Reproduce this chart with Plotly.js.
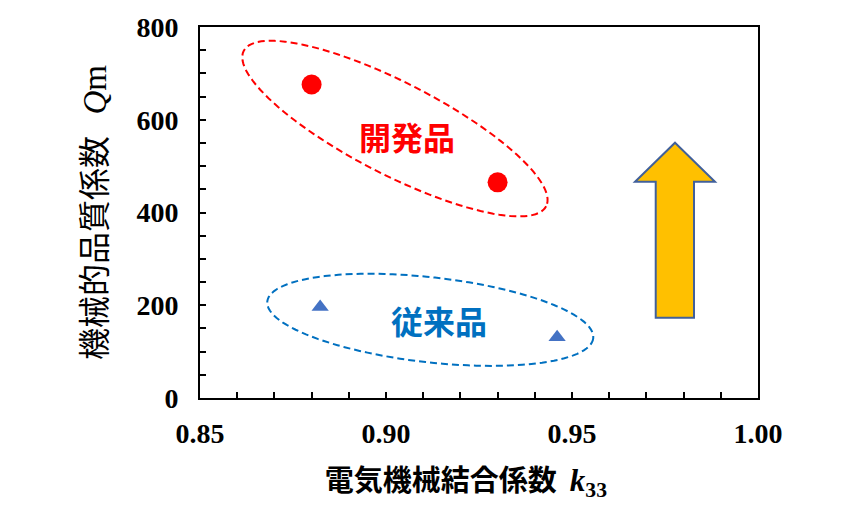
<!DOCTYPE html>
<html>
<head>
<meta charset="utf-8">
<script src="https://cdn.plot.ly/plotly-3.0.1.min.js"></script>
<style>html,body{margin:0;padding:0;background:#fff;}#chart{width:860px;height:520px;}</style>
</head>
<body>
<div id="chart"></div>
<script>
// ---- data ----
const devX = [0.880, 0.930];          // 開発品 k33
const devY = [676, 465];              // 開発品 Qm
const convX = [0.8823, 0.946];        // 従来品 k33
const convY = [196, 131];             // 従来品 Qm
const xTickVals = [0.85, 0.90, 0.95, 1.00];
const xTickText = ['0.85', '0.90', '0.95', '1.00'];
const yTickVals = [0, 200, 400, 600, 800];
const yTickText = ['0', '200', '400', '600', '800'];
const groupLabels = ['開発品', '従来品'];

// ---- layout geometry ----
const W = 860, H = 520;
const M = {l: 200, r: 102, t: 27, b: 122};
const xRange = [0.85, 1.00], yRange = [0, 800];
const plotW = W - M.l - M.r, plotH = H - M.t - M.b;
const kx = plotW / (xRange[1] - xRange[0]);
const ky = plotH / (yRange[1] - yRange[0]);

function ellipsePath(cx, cy, aPx, bPx, angDeg) {
  const th = angDeg * Math.PI / 180;
  let d = '';
  const n = 120;
  for (let i = 0; i <= n; i++) {
    const t = 2 * Math.PI * i / n;
    const dxp = aPx * Math.cos(t) * Math.cos(th) - bPx * Math.sin(t) * Math.sin(th);
    const dyp = aPx * Math.cos(t) * Math.sin(th) + bPx * Math.sin(t) * Math.cos(th);
    const x = cx + dxp / kx;
    const y = cy - dyp / ky;
    d += (i === 0 ? 'M' : 'L') + x.toFixed(5) + ',' + y.toFixed(3);
  }
  return d + 'Z';
}
function px2paper(p) { return [(p[0] - M.l) / plotW, (H - M.b - p[1]) / plotH]; }
const arrowPx = [[675,142.7],[715,181.7],[694,181.7],[694,317.7],[655.7,317.7],[655.7,181.7],[635,181.7]];
const arrowPath = arrowPx.map((p, i) => { const q = px2paper(p); return (i ? 'L' : 'M') + q[0].toFixed(4) + ',' + q[1].toFixed(4); }).join('') + 'Z';

const serif = 'Liberation Serif, Times New Roman, serif';
const cjk = 'Noto Sans CJK JP, sans-serif';

const traces = [
  {x: devX, y: devY, type: 'scatter', mode: 'markers', name: groupLabels[0],
   marker: {symbol: 'circle', size: 20, color: '#FF0000'}, cliponaxis: false},
  {x: convX, y: convY, type: 'scatter', mode: 'markers', name: groupLabels[1],
   marker: {symbol: 'triangle-up', size: 15, color: '#4472C4'}, cliponaxis: false}
];

const layout = {
  width: W, height: H,
  margin: M,
  paper_bgcolor: '#fff', plot_bgcolor: '#fff',
  showlegend: false,
  xaxis: {
    range: xRange, tickvals: xTickVals, ticktext: xTickText,
    ticks: 'inside', ticklen: 6, tickwidth: 2, tickcolor: '#000',
    minor: {dtick: 0.01, ticks: 'inside', ticklen: 6, tickwidth: 2, tickcolor: '#000', showgrid: false},
    showline: true, linewidth: 2, linecolor: '#000', mirror: true,
    showgrid: false, zeroline: false,
    tickfont: {family: serif, size: 28, weight: 'bold', color: '#000'},
    ticklabelstandoff: 9,
    title: {text: '電気機械結合係数&nbsp;&nbsp;<span style="font-family:Liberation Serif;font-size:31px"><i>k</i><sub>33</sub></span>&nbsp;&nbsp;&nbsp;&nbsp;',
            font: {family: cjk, size: 29, weight: 'bold', color: '#000'}, standoff: 23}
  },
  yaxis: {
    range: yRange, tickvals: yTickVals, ticktext: yTickText,
    ticks: 'inside', ticklen: 6, tickwidth: 2, tickcolor: '#000',
    minor: {dtick: 50, ticks: 'inside', ticklen: 6, tickwidth: 2, tickcolor: '#000', showgrid: false},
    showline: true, linewidth: 2, linecolor: '#000', mirror: true,
    showgrid: false, zeroline: false,
    tickfont: {family: serif, size: 28, weight: 'bold', color: '#000'},
    ticklabelstandoff: 14,
    title: {text: '機械的品質係数&nbsp;&nbsp;&nbsp;<span style="font-family:Liberation Serif;font-size:33px"><i>Q</i>m</span>',
            font: {family: cjk, size: 32, weight: 'normal', color: '#000'}, standoff: 20}
  },
  shapes: [
    {type: 'path', xref: 'x', yref: 'y', path: ellipsePath(0.9024, 581, 170, 46, 27.2),
     line: {color: '#FF0000', width: 2, dash: '7px,4px'}},
    {type: 'path', xref: 'x', yref: 'y', path: ellipsePath(0.9119, 168.6, 164, 42.5, 6.45),
     line: {color: '#0070C0', width: 2, dash: '7px,4px'}},
    {type: 'path', xref: 'paper', yref: 'paper', path: arrowPath,
     fillcolor: '#FFC000', line: {color: '#41609A', width: 2}}
  ],
  annotations: [
    {x: 0.9056, y: 566, xref: 'x', yref: 'y', text: groupLabels[0], showarrow: false,
     font: {family: cjk, size: 32, weight: 'bold', color: '#FF0000'}},
    {x: 0.9142, y: 168.6, xref: 'x', yref: 'y', text: groupLabels[1], showarrow: false,
     font: {family: cjk, size: 32, weight: 'bold', color: '#0070C0'}}
  ]
};

Plotly.newPlot('chart', traces, layout, {staticPlot: true, displayModeBar: false});
</script>
</body>
</html>
